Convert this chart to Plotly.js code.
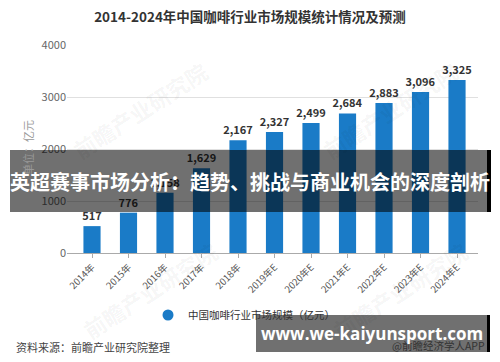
<!DOCTYPE html>
<html><head><meta charset="utf-8">
<script src="https://cdn.plot.ly/plotly-3.0.1.min.js"></script>
<style>html,body{margin:0;padding:0;background:#fff;}#chart{width:500px;height:362px;}</style>
</head><body><div id="chart"></div>
<script>
const categories = ['2014年','2015年','2016年','2017年','2018年','2019年E','2020年E','2021年E','2022年E','2023年E','2024年E'];
const marketSize = [517, 776, 1158, 1629, 2167, 2327, 2499, 2684, 2883, 3096, 3325];
const seriesName = '中国咖啡行业市场规模（亿元）';
const chartTitle = '2014-2024年中国咖啡行业市场规模统计情况及预测';
const yTitle = '单位：亿元';
const sourceText = '资料来源：前瞻产业研究院整理';
const bannerText = '英超赛事市场分析：趋势、挑战与商业机会的深度剖析';
const siteText = 'www.we-kaiyunsport.com';
const appText = '@前瞻经济学人APP';
const markText = '前瞻产业研究院';

const L=67, R=22, T=45, B=109, FW=500, FH=362;
const W=FW-L-R, H=FH-T-B;
const px = x => (x-L)/W;
const py = y => (T+H-y)/H;
const FONT = '"Noto Sans CJK SC", "Noto Sans", sans-serif';
const BLUE = '#1a7bc7';

const traces = [
  {type:'bar', x:categories, y:marketSize, marker:{color:BLUE}, showlegend:false,
   texttemplate:'%{y:,}', textposition:'outside', cliponaxis:false, constraintext:'none',
   textfont:{family:FONT, size:11, color:'#333', weight:'bold'}, hoverinfo:'skip'},
  {type:'scatter', mode:'markers', x:[null], y:[null], name:seriesName,
   marker:{color:BLUE, size:11, symbol:'circle'}, showlegend:true}
];

const wm = (x, y) => ({text:markText, xref:'paper', yref:'paper', x:px(x), y:py(y), xanchor:'center', yanchor:'middle',
  textangle:-33, showarrow:false, font:{size:22, color:'rgba(0,0,0,0.05)', family:FONT, weight:'bold'}});

const layout = {
  width:FW, height:FH, margin:{l:L, r:R, t:T, b:B},
  paper_bgcolor:'#fff', plot_bgcolor:'#fff',
  separators:'.,',
  font:{family:FONT, color:'#555'},
  bargap:0.53,
  title:{text:'<b>'+chartTitle+'</b>', x:0.5, xref:'container', xanchor:'center', y:1-17/FH, yanchor:'middle',
         font:{family:FONT, size:13.5, color:'#333'}},
  xaxis:{type:'category', range:[-0.685, 10.575], tickangle:-45, showline:true, linecolor:'#aaa',
         ticks:'outside', ticklen:4, tickcolor:'#aaa', tickfont:{size:9.5, color:'#555', family:FONT},
         showgrid:false, fixedrange:true},
  yaxis:{range:[0,4000], dtick:1000, showgrid:true, gridcolor:'#e0e0e0', zeroline:false,
         tickfont:{size:11, color:'#666', family:FONT}, ticks:'', automargin:false},
  legend:{orientation:'h', x:px(148), xanchor:'left', y:py(315), yanchor:'middle',
          font:{size:10.5, color:'#333', family:FONT}, itemwidth:30, bgcolor:'rgba(0,0,0,0)'},
  shapes:[
    {type:'rect', xref:'paper', yref:'paper', x0:px(10), x1:px(488), y0:py(212), y1:py(150),
     fillcolor:'rgba(0,0,0,0.56)', line:{width:0}, layer:'above'},
    {type:'rect', xref:'paper', yref:'paper', x0:px(487), x1:px(491), y0:py(212), y1:py(150),
     fillcolor:'#000', line:{width:0}, layer:'above'},
    {type:'rect', xref:'paper', yref:'paper', x0:px(256), x1:px(487), y0:py(352), y1:py(315),
     fillcolor:'rgba(0,0,0,0.56)', line:{width:0}, layer:'above'},
    {type:'rect', xref:'paper', yref:'paper', x0:px(487), x1:px(490), y0:py(352), y1:py(315),
     fillcolor:'#000', line:{width:0}, layer:'above'}
  ],
  annotations:[
    wm(140, 110), wm(390, 110), wm(150, 290), wm(400, 290),
    {text:yTitle, xref:'paper', yref:'paper', x:px(28), y:py(148), xanchor:'center', yanchor:'middle',
     textangle:-90, showarrow:false, font:{size:11, color:'#999', family:FONT}},
    {text:sourceText, xref:'paper', yref:'paper', x:px(14), y:py(347), xanchor:'left', yanchor:'middle',
     showarrow:false, font:{size:11, color:'#444', family:FONT}},
    {text:'<b>'+bannerText+'</b>', xref:'paper', yref:'paper', x:px(250), y:py(181), xanchor:'center', yanchor:'middle',
     showarrow:false, font:{size:20, color:'#fff', family:FONT}},
    {text:appText, xref:'paper', yref:'paper', x:px(487), y:py(345), xanchor:'right', yanchor:'middle',
     showarrow:false, font:{size:10.5, color:'#333', family:FONT}},
    {text:'<b>'+siteText+'</b>', xref:'paper', yref:'paper', x:px(372), y:py(333), xanchor:'center', yanchor:'middle',
     showarrow:false, font:{size:17, color:'#fff', family:'"Open Sans", "DejaVu Sans", sans-serif'}}
  ]
};
Plotly.newPlot('chart', traces, layout, {displayModeBar:false, staticPlot:true});
</script></body></html>
